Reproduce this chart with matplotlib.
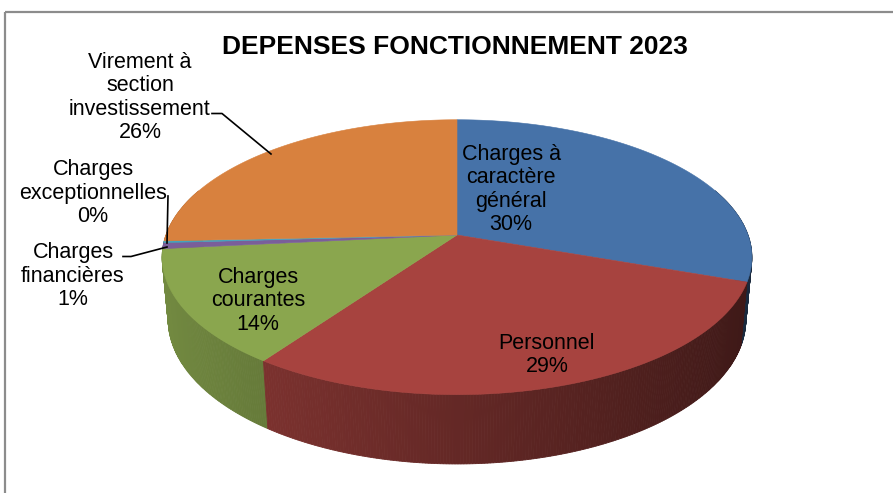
import numpy as np
import matplotlib
matplotlib.use("Agg")
import matplotlib.pyplot as plt
from matplotlib.patches import Polygon
from matplotlib.colors import to_rgb

# ---------------- data ----------------
categories = ["Charges à caractère général", "Personnel", "Charges courantes",
              "Charges financières", "Charges exceptionnelles",
              "Virement à section investissement"]
values = [30.4, 29.4, 13.6, 0.7, 0.2, 25.7]
label_texts = ["Charges à\ncaractère\ngénéral", "Personnel", "Charges\ncourantes",
               "Charges\nfinancières", "Charges\nexceptionnelles",
               "Virement à\nsection\ninvestissement"]
colors = ["#4672A8", "#A7433F", "#8AA64E", "#7A5E9A", "#44A3BD", "#D8813E"]
title = "DEPENSES FONCTIONNEMENT 2023"

# ---------------- figure ----------------
W, H = 893, 493
fig = plt.figure(figsize=(W / 100, H / 100), dpi=100)
ax = fig.add_axes([0, 0, 1, 1])
ax.set_xlim(0, W)
ax.set_ylim(H, 0)
ax.axis("off")

FONT = "Liberation Sans"

# chart border (top and left visible)
ax.plot([5, W + 5], [11.5, 11.5], color="#8c8c8c", lw=1.6, solid_capstyle="butt")
ax.plot([5, 5], [11.5, H + 5], color="#8c8c8c", lw=1.6, solid_capstyle="butt")

# ---------------- 3D pie projection ----------------
CX, CY, R = 457, 235, 291
SE = 0.46
CE = np.sqrt(1 - SE ** 2)
DIST = 5.5
DEPTH = 0.243


def proj(theta, z):
    X = np.cos(theta)
    Y = np.sin(theta)
    yv = Y * SE + z * CE
    zv = Y * CE - z * SE
    s = DIST / (DIST + zv)
    return CX + R * X * s, CY - R * yv * s


vals = np.array(values, dtype=float)
fr = vals / vals.sum()
cum = np.concatenate([[0], np.cumsum(fr)])
starts = np.deg2rad(90 - 360 * cum[:-1])
ends = np.deg2rad(90 - 360 * cum[1:])


def shade(theta):
    return 0.6 - 0.24 * np.cos(theta)


# side walls (quads sorted back to front)
quads = []
for i in range(len(vals)):
    a0, a1 = starts[i], ends[i]
    n = max(2, int(np.ceil(abs(a0 - a1) / np.deg2rad(0.5))))
    th = np.linspace(a0, a1, n + 1)
    for k in range(n):
        t0, t1 = th[k], th[k + 1]
        tm = 0.5 * (t0 + t1)
        if np.sin(tm) > 0.35:
            continue
        p = [proj(t0, 0), proj(t1, 0), proj(t1, -DEPTH), proj(t0, -DEPTH)]
        c = np.clip(np.array(to_rgb(colors[i])) * shade(tm), 0, 1)
        quads.append((np.sin(tm), p, c))
quads.sort(key=lambda q: -q[0])
for _, p, c in quads:
    ax.add_patch(Polygon(p, closed=True, facecolor=c, edgecolor=c, lw=0.6))

# top faces
for i in range(len(vals)):
    th = np.linspace(starts[i], ends[i], max(3, int(abs(starts[i] - ends[i]) / 0.005)))
    xs, ys = proj(th, 0)
    pts = [(CX, CY)] + list(zip(xs, ys))
    ax.add_patch(Polygon(pts, closed=True, facecolor=colors[i],
                         edgecolor=colors[i], lw=0.4))

# ---------------- labels ----------------
pcts = [f"{int(round(f * 100))}%" for f in fr]
label_pos = [(511, 189.5), (547, 355), (258, 301),
             (73, 276), (93, 193), (140, 97.5)]
for txt, pc, (x, y) in zip(label_texts, pcts, label_pos):
    ax.text(x, y, txt + "\n" + pc, ha="center", va="center", fontsize=15.5,
            family=FONT, color="black", linespacing=1.13)

# leader lines
ax.plot([212, 222, 271], [113.5, 113.5, 154], color="black", lw=1.2)
ax.plot([168, 167], [196, 243], color="black", lw=1.2)
ax.plot([123, 131, 167], [256.5, 256.5, 247], color="black", lw=1.2)

ax.text(455, 54.5, title, ha="center", va="baseline", fontsize=19,
        fontweight="bold", family=FONT, color="black")

fig.savefig("out.png", dpi=100)
